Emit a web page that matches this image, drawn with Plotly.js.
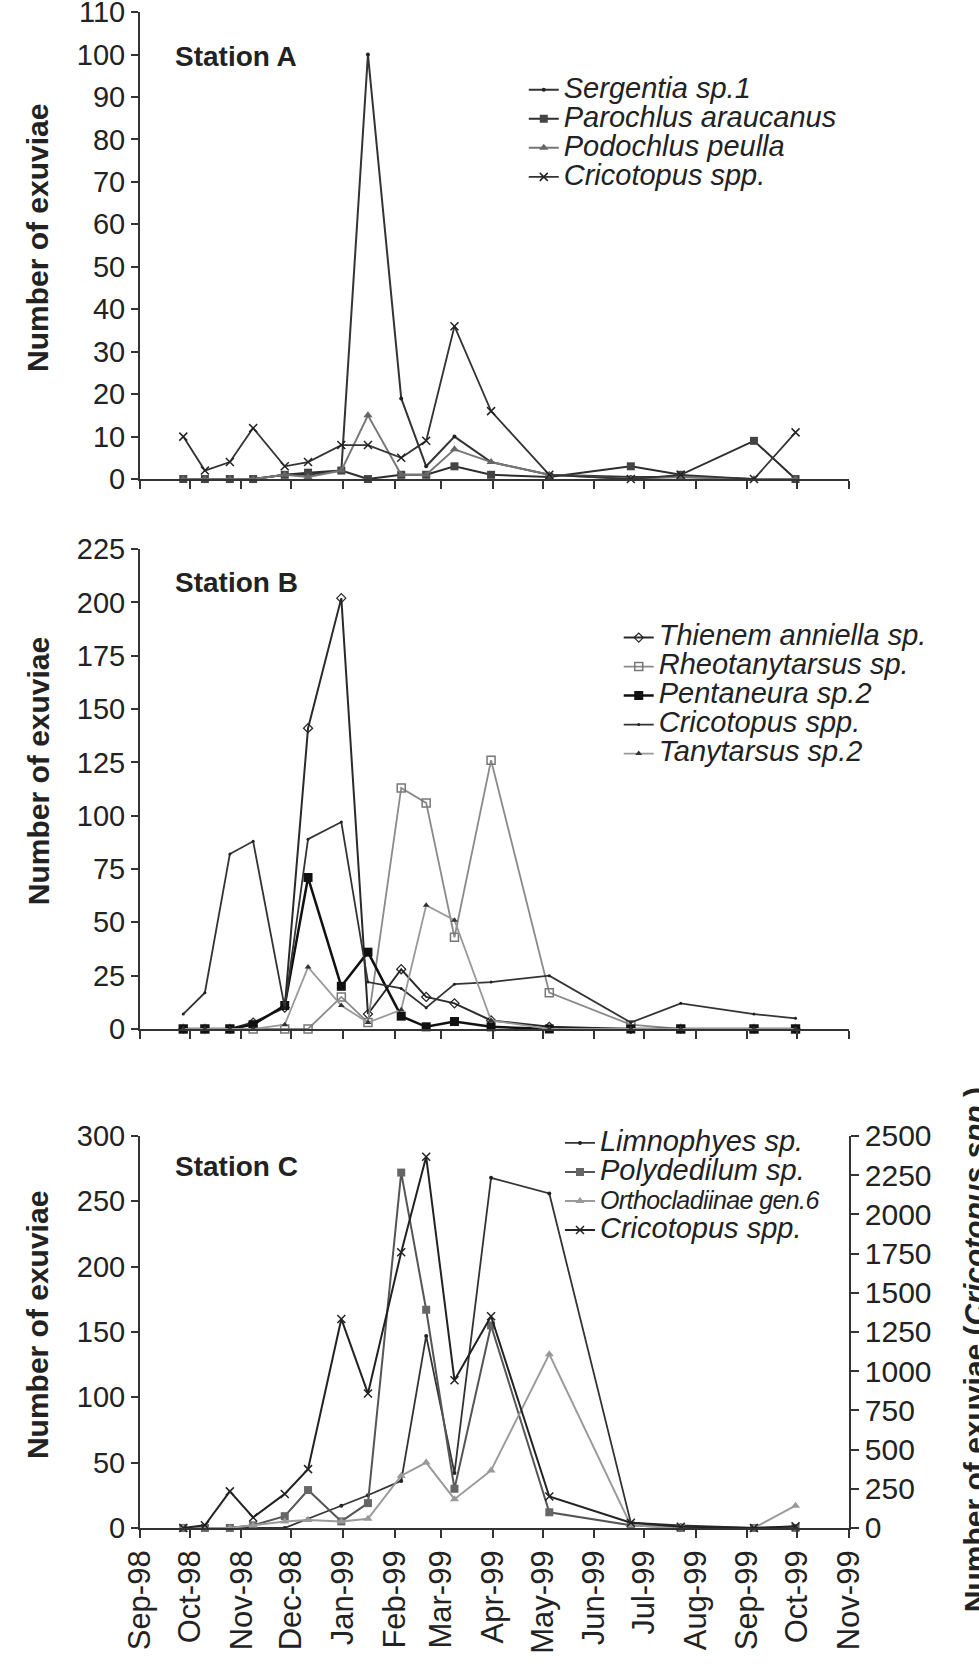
<!DOCTYPE html>
<html>
<head>
<meta charset="utf-8">
<script src="https://cdn.plot.ly/plotly-3.0.1.min.js"></script>
<style>
  body { margin: 0; background: #fff; }
  #chart { width: 979px; height: 1675px; }
</style>
</head>
<body>
<div id="chart"></div>
<script>
// sampling dates (same for the three stations)
const sampleDates = [
  "1998-09-27", "1998-10-10", "1998-10-25", "1998-11-08", "1998-11-27",
  "1998-12-11", "1998-12-31", "1999-01-16", "1999-02-05", "1999-02-20",
  "1999-03-09", "1999-03-31", "1999-05-05", "1999-06-23", "1999-07-23",
  "1999-09-05", "1999-09-30",
];

// Station A
const sergentiaA = [0, 0, 0, 0, 1, 1, 2, 100, 19, 3, 10, 4, 1, 0.5, 0.5, 0, 0];
const parochlusA = [0, 0, 0, 0, 1, 1.5, 2, 0, 1, 1, 3, 1, 0.5, 3, 1, 9, 0];
const podochlusA = [0, 0, 0, 0, 1, 0.5, 2, 15, 1, 1, 7, 4, 1, 0, 0.5, 0, 0];
const cricotopusA = [10, 2, 4, 12, 3, 4, 8, 8, 5, 9, 36, 16, 1, 0, 1, 0, 11];

// Station B
const thienemB = [0, 0, 0, 3, 10, 141, 202, 7, 28, 15, 12, 4, 1, 0, 0, 0, 0];
const rheotanytarsusB = [0, 0, 0, 0, 0, 0, 15, 3, 113, 106, 43, 126, 17, 2, 0, 0, 0];
const pentaneuraB = [0, 0, 0, 2, 11, 71, 20, 36, 6, 1, 3.5, 1, 0, 0, 0, 0, 0];
const cricotopusB = [7, 17, 82, 88, 10, 89, 97, 22, 19, 10, 21, 22, 25, 3, 12, 7, 5];
const tanytarsusB = [0, 0, 0, 0, 2, 29, 11, 3, 9, 58, 51, 4, 0, 0, 0, 0, 0];

// Station C (Cricotopus on the right axis)
const limnophyesC = [0, 0, 0, 0, 0, 7, 17, 25, 36, 147, 42, 268, 256, 4, 2, 0, 1];
const polydedilumC = [0, 0, 0, 2, 9, 29, 5, 19, 272, 167, 30, 155, 12, 2, 0, 0, 0];
const orthocladC = [0, 0, 0, 2, 5, 6, 5, 7, 40, 50, 22, 44, 133, 2, 0, 0, 17];
const cricotopusC = [0, 17, 233, 67, 217, 375, 1333, 858, 1758, 2367, 942, 1350, 200, 33, 8, 0, 10];

const FONT = "Liberation Sans, Arial, sans-serif";
const INK = "#222";

// legend rows are spaced from the small legend font, the names are drawn bigger
function legName(text, style) {
  return '<span style="' + (style || "font-size:29px") + '">' + text + "</span>";
}

function series(y, name, xa, ya, leg, line, marker) {
  return {
    type: "scatter",
    mode: "lines+markers",
    x: sampleDates,
    y: y,
    name: name,
    xaxis: xa,
    yaxis: ya,
    legend: leg,
    cliponaxis: false,
    line: line,
    marker: marker,
  };
}

const data = [
  series(sergentiaA, legName("Sergentia sp.1"), "x", "y", "legend",
    { color: "#333", width: 2 }, { symbol: "circle", size: 4, color: "#222" }),
  series(parochlusA, legName("Parochlus araucanus"), "x", "y", "legend",
    { color: "#2e2e2e", width: 2 }, { symbol: "square", size: 8, color: "#444" }),
  series(podochlusA, legName("Podochlus peulla"), "x", "y", "legend",
    { color: "#777", width: 2 }, { symbol: "triangle-up", size: 8, color: "#666" }),
  series(cricotopusA, legName("Cricotopus spp."), "x", "y", "legend",
    { color: "#333", width: 1.8 }, { symbol: "x-thin", size: 8, line: { width: 1.5, color: "#222" } }),

  series(thienemB, legName("Thienem anniella sp."), "x2", "y2", "legend2",
    { color: "#2a2a2a", width: 2 }, { symbol: "diamond-open", size: 7, color: "#222", line: { width: 1.2 } }),
  series(rheotanytarsusB, legName("Rheotanytarsus sp."), "x2", "y2", "legend2",
    { color: "#8a8a8a", width: 1.8 }, { symbol: "square-open", size: 8, color: "#777", line: { width: 1.5 } }),
  series(pentaneuraB, legName("Pentaneura sp.2"), "x2", "y2", "legend2",
    { color: "#111", width: 2.5 }, { symbol: "square", size: 9, color: "#111" }),
  series(cricotopusB, legName("Cricotopus spp."), "x2", "y2", "legend2",
    { color: "#333", width: 1.8 }, { symbol: "circle", size: 3, color: "#222" }),
  series(tanytarsusB, legName("Tanytarsus sp.2"), "x2", "y2", "legend2",
    { color: "#999", width: 1.8 }, { symbol: "triangle-up", size: 6, color: "#333" }),

  series(limnophyesC, legName("Limnophyes sp."), "x3", "y3", "legend3",
    { color: "#333", width: 1.8 }, { symbol: "circle", size: 4, color: "#222" }),
  series(polydedilumC, legName("Polydedilum sp."), "x3", "y3", "legend3",
    { color: "#555", width: 2 }, { symbol: "square", size: 8, color: "#666" }),
  series(orthocladC, legName("Orthocladiinae gen.6", "font-size:25px;letter-spacing:-0.6px"),
    "x3", "y3", "legend3",
    { color: "#9a9a9a", width: 2 }, { symbol: "triangle-up", size: 8, color: "#999" }),
  series(cricotopusC, legName("Cricotopus spp."), "x3", "y4", "legend3",
    { color: "#222", width: 2 }, { symbol: "x-thin", size: 8, line: { width: 1.5, color: "#222" } }),
];

const xBase = {
  domain: [0.143, 0.867],
  type: "date",
  range: ["1998-09-01", "1999-11-01"],
  tick0: "1998-09-01",
  dtick: "M1",
  ticks: "outside",
  ticklen: 8,
  tickwidth: 2,
  tickcolor: "#333",
  showline: true,
  linecolor: "#333",
  linewidth: 2,
  showgrid: false,
  zeroline: false,
  showticklabels: false,
  fixedrange: true,
};

function yBase(domain, max, step) {
  return {
    domain: domain,
    range: [0, max],
    dtick: step,
    tick0: 0,
    ticks: "outside",
    ticklen: 7,
    tickwidth: 2,
    tickcolor: "#333",
    showline: true,
    linecolor: "#333",
    linewidth: 2,
    showgrid: false,
    zeroline: false,
    ticklabeloverflow: "allow",
    tickfont: { family: FONT, size: 29, color: INK },
    fixedrange: true,
  };
}

const domainC = [0.0878, 0.3218];

function legendAt(x, y) {
  return {
    x: x, y: y,
    xanchor: "left", yanchor: "top",
    bgcolor: "rgba(0,0,0,0)",
    tracegroupgap: 0,
    itemwidth: 30,
    font: { family: FONT, size: 20, color: INK, style: "italic" },
  };
}

function yTitle(text, y) {
  return {
    text: "<b>" + text + "</b>",
    xref: "paper", yref: "paper",
    x: 0.039, y: y,
    xanchor: "center", yanchor: "middle",
    textangle: -90,
    showarrow: false,
    font: { family: FONT, size: 30, color: INK },
  };
}

function stationLabel(text, y) {
  return {
    text: "<b>" + text + "</b>",
    xref: "paper", yref: "paper",
    x: 0.1767, y: y,
    xanchor: "left", yanchor: "middle",
    showarrow: false,
    font: { family: FONT, size: 28, color: INK },
  };
}

const layout = {
  width: 979,
  height: 1675,
  margin: { t: 0, l: 0, r: 0, b: 0 },
  paper_bgcolor: "#fff",
  plot_bgcolor: "rgba(0,0,0,0)",
  showlegend: true,
  xaxis: Object.assign({}, xBase, { anchor: "y" }),
  xaxis2: Object.assign({}, xBase, { anchor: "y2" }),
  xaxis3: Object.assign({}, xBase, {
    anchor: "y3",
    showticklabels: true,
    tickformat: "%b-%y",
    tickangle: -90,
    tickfont: { family: FONT, size: 31, color: INK },
  }),
  yaxis: Object.assign(yBase([0.714, 0.9928], 110, 10), { anchor: "x" }),
  yaxis2: Object.assign(yBase([0.3857, 0.6722], 225, 25), { anchor: "x2" }),
  yaxis3: Object.assign(yBase(domainC, 300, 50), { anchor: "x3" }),
  yaxis4: Object.assign(yBase(domainC, 2500, 250), {
    anchor: "x3",
    overlaying: "y3",
    side: "right",
    ticklen: 8,
    tickfont: { family: FONT, size: 30, color: INK },
  }),
  // inner half of the crossing ticks on the right axis
  yaxis5: Object.assign(yBase(domainC, 2500, 250), {
    anchor: "x3",
    overlaying: "y3",
    side: "right",
    ticks: "inside",
    ticklen: 6,
    showline: false,
    showticklabels: false,
  }),
  legend: legendAt(0.535, 0.958),
  legend2: legendAt(0.632, 0.631),
  legend3: legendAt(0.572, 0.3293),
  annotations: [
    yTitle("Number of exuviae", 0.858),
    yTitle("Number of exuviae", 0.5397),
    yTitle("Number of exuviae", 0.209),
    stationLabel("Station A", 0.966),
    stationLabel("Station B", 0.6525),
    stationLabel("Station C", 0.3033),
    {
      text: "<b>Number of exuviae (<i>Cricotopus spp.</i>)</b>",
      xref: "paper", yref: "paper",
      x: 0.995, y: 0.194,
      xanchor: "center", yanchor: "middle",
      textangle: -90,
      showarrow: false,
      font: { family: FONT, size: 30, color: INK },
    },
  ],
};

const config = {
  responsive: false,
  displayModeBar: false,
  staticPlot: true,
};

Plotly.newPlot("chart", data, layout, config);
</script>
</body>
</html>
